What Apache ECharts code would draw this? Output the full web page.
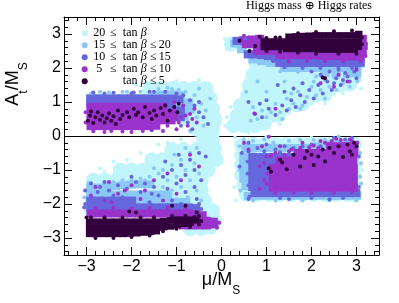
<!DOCTYPE html>
<html><head><meta charset="utf-8">
<script src="https://cdn.jsdelivr.net/npm/echarts@6/dist/echarts.min.js"></script>
<style>html,body{margin:0;padding:0;background:#fff}#c{width:399px;height:303px}</style>
</head><body><div id="c"></div>
<script>
const names = ['20 \u2264 tan \u03b2', '15 \u2264 tan \u03b2 \u2264 20', '10 \u2264 tan \u03b2 \u2264 15', '5 \u2264 tan \u03b2 \u2264 10', 'tan \u03b2 \u2264 5'];
const legendLo = ['20', '15', '10', '5', ''];
const legendHi = ['', '20', '15', '10', '5'];
const colors = ['#c0f5fc', '#8cc8f5', '#6666dd', '#9933cc', '#32003c'];
const majorTicks = [-3, -2, -1, 0, 1, 2, 3];
const minorTicks = [-3.4,-3.2,-2.8,-2.6,-2.4,-2.2,-1.8,-1.6,-1.4,-1.2,-0.8,-0.6,-0.4,-0.2,0.2,0.4,0.6,0.8,1.2,1.4,1.6,1.8,2.2,2.4,2.6,2.8,3.2,3.4];

// tan beta >= 20 (cyan): dense cores and scattered points
const c20Core = [
[0.22,2.7],[0.45,2.7],[0.7,2.7],[0.95,2.7],
[0.87,2.4],[1.1,2.4],[1.35,2.4],[1.6,2.4],[1.85,2.4],[2.1,2.4],[2.35,2.4],[2.6,2.4],[2.85,2.4],[3.05,2.4],
[0.77,2.1],[1.0,2.1],[1.25,2.1],[1.5,2.1],[1.75,2.1],[2.0,2.1],[2.25,2.1],[2.5,2.1],[2.75,2.1],[2.95,2.1],
[0.7,1.8],[0.95,1.8],[1.2,1.8],[1.45,1.8],[1.7,1.8],[1.95,1.8],[2.2,1.8],[2.45,1.8],[2.7,1.8],[2.95,1.8],
[0.62,1.5],[0.87,1.5],[1.12,1.5],[1.37,1.5],[1.62,1.5],[1.87,1.5],[2.12,1.5],[2.37,1.5],[2.62,1.5],[2.85,1.52],
[0.58,1.2],[0.83,1.2],[1.08,1.2],[1.33,1.2],[1.58,1.2],[1.83,1.2],[2.08,1.2],[2.3,1.22],
[0.42,0.9],[0.67,0.9],[0.92,0.9],[1.17,0.9],[1.42,0.9],[1.67,0.92],[1.8,0.95],
[0.35,0.6],[0.6,0.6],[0.85,0.6],[1.1,0.6],[1.28,0.62],
[0.27,0.3],[0.5,0.3],[0.75,0.3],[0.95,0.38],
[-1.6,1.4],[-1.35,1.4],[-1.1,1.4],[-0.85,1.4],[-0.6,1.4],[-0.35,1.4],
[-0.95,1.1],[-0.7,1.1],[-0.45,1.1],[-0.25,1.1],
[-0.9,0.8],[-0.65,0.8],[-0.4,0.8],[-0.2,0.8],
[-0.75,0.5],[-0.5,0.5],[-0.28,0.5],[-0.15,0.5],
[-0.55,0.2],[-0.35,0.2],[-0.2,0.2],
[-0.4,-0.1],[-0.2,-0.1],
[-1.1,-0.4],[-0.85,-0.4],[-0.55,-0.4],[-0.3,-0.4],[-0.15,-0.4],
[-1.55,-0.7],[-1.3,-0.7],[-1.05,-0.7],[-0.8,-0.7],[-0.55,-0.7],[-0.3,-0.7],[-0.12,-0.7],
[-2.25,-1.0],[-2.0,-1.0],[-1.75,-1.0],[-1.5,-1.0],[-1.25,-1.0],[-1.0,-1.0],[-0.75,-1.0],[-0.5,-1.0],[-0.3,-1.0],
[-2.85,-1.3],[-2.6,-1.3],[-2.35,-1.3],[-2.1,-1.3],[-1.85,-1.3],[-1.6,-1.3],[-1.35,-1.3],[-1.1,-1.3],[-0.85,-1.3],[-0.6,-1.3],[-0.45,-1.3],
[-2.88,-1.6],[-1.6,-1.6],[-1.35,-1.6],[-1.1,-1.6],[-0.85,-1.6],[-0.6,-1.6],[-0.45,-1.6],
[-2.88,-1.9],[-1.35,-1.9],[-1.1,-1.9],[-0.85,-1.9],[-0.6,-1.9],[-0.38,-1.9],
[-2.88,-2.2],[-0.85,-2.2],[-0.6,-2.2],[-0.4,-2.2],[-0.2,-2.2],
[-0.6,-2.5],[-0.35,-2.5],[-0.15,-2.5],
[-0.7,-2.72],[-0.45,-2.72],[-0.25,-2.68],
[0.45,-0.28],[0.7,-0.25],[0.95,-0.25],[1.2,-0.25],[1.45,-0.25],[1.7,-0.25],[1.95,-0.25],[2.2,-0.25],[2.45,-0.25],[2.7,-0.25],[2.95,-0.25],
[0.45,-0.55],[0.7,-0.55],[0.95,-0.55],[1.2,-0.55],[1.45,-0.55],[2.95,-0.55],
[0.45,-0.85],[0.7,-0.85],[2.95,-0.85],
[0.45,-1.15],[0.7,-1.15],[2.95,-1.15],
[0.5,-1.45],[0.75,-1.45],[2.95,-1.45],
[0.55,-1.72],[0.8,-1.72],[1.05,-1.72],[1.3,-1.72],[1.55,-1.72],[1.8,-1.72],[2.05,-1.72],[2.3,-1.72],[2.55,-1.72],[2.8,-1.72],[2.95,-1.72]
];
const c20Pts = [
[0.6,0.1],[1.0,0.4],[1.5,0.68],[2.0,0.95],[2.5,1.25],[2.9,1.42],[3.08,1.65],[0.08,0.3],[0.12,0.55],[0.2,0.85],
[-0.05,0.35],[-0.5,1.65],[-1.0,1.62],[-1.8,1.3],[-1.9,1.5],[-2.4,-0.75],[-1.8,-0.5],[-1.4,-0.25],[-0.9,-0.1],
[-2.9,-1.15],[-2.6,-1.05],[-0.05,-0.3],[-0.02,-0.6],[-0.05,-2.55],[0.3,-0.05],[1.0,-0.02],[2.0,-0.05],
[3.13,-1.0],[0.28,-1.5],[0.32,-1.9],[0.08,2.85],[0.12,2.55],[3.12,2.0],[3.1,1.4],[-0.1,0.05],[-0.25,0.05],
[-2.1,-0.7],[-1.2,-0.2],[-2.7,-0.95],[1.3,0.35],[2.3,0.95],[2.7,1.25]
];
// 15 <= tan beta <= 20 (light blue)
const c15Core = [
[0.3,2.72],[0.5,2.72],[0.45,2.55],
[1.4,2.0],[1.6,2.0],[1.8,2.0],[2.0,2.0],[2.2,2.0],[2.4,2.0],[2.6,2.0],[2.8,2.0],[3.0,2.0],
[2.3,1.84],[2.55,1.84],[2.8,1.84],[3.0,1.84],[0.7,2.25],[0.9,2.2],[1.1,2.15],
[-2.9,1.12],[-2.72,1.12],[-2.54,1.12],[-2.36,1.12],[-2.18,1.12],[-2.0,1.12],[-1.82,1.12],[-1.64,1.12],[-1.46,1.2],[-1.28,1.22],[-1.1,1.22],[-0.92,1.2],
[-1.5,0.98],[-1.3,0.98],[-1.1,0.98],[-0.9,0.98],[-0.74,0.98],
[-1.4,0.78],[-1.2,0.78],[-1.0,0.78],[-0.82,0.78],[-0.7,0.78],
[-1.2,0.58],[-1.0,0.58],[-0.84,0.58],
[-2.9,-1.52],[-2.72,-1.52],[-2.54,-1.5],[-2.36,-1.47],[-2.18,-1.45],[-2.0,-1.43],[-1.8,-1.42],[-1.6,-1.42],
[-2.9,-1.72],[-2.72,-1.72],[-2.54,-1.72],[-2.36,-1.72],[-2.18,-1.72],[-2.0,-1.72],[-1.8,-1.72],[-1.6,-1.72],[-1.4,-1.72],[-1.2,-1.72],
[-2.9,-1.94],[-2.72,-1.94],[-2.54,-1.94],[-2.36,-1.94],[-2.18,-1.94],[-2.0,-1.94],[-1.8,-1.94],[-1.6,-1.94],[-1.4,-1.94],[-1.2,-1.94],[-1.0,-1.94],[-0.8,-1.94],
[0.55,-0.35],[0.75,-0.35],[0.95,-0.35],[1.15,-0.35],[1.35,-0.35],[1.55,-0.35],[1.75,-0.35],[1.95,-0.35],[2.15,-0.3],[2.35,-0.25],[2.55,-0.22],[2.75,-0.22],[2.95,-0.25],
[0.5,-0.6],[0.65,-0.6],[0.5,-0.82],[0.65,-0.82],[0.5,-1.04],[0.65,-1.04],[0.5,-1.26],[0.65,-1.26],[0.55,-1.48],[0.7,-1.48],
[0.6,-1.76],[0.8,-1.76],[1.0,-1.76],[1.2,-1.76],[1.4,-1.76],[1.6,-1.76],[1.8,-1.76],[2.0,-1.76],[2.2,-1.76],[2.4,-1.76],[2.6,-1.76],[2.8,-1.76],[3.0,-1.76]
];
const c15Pts = [
[0.65,0.45],[0.8,0.5],[1.0,0.55],[1.1,0.7],[1.3,0.7],[1.5,0.8],[1.6,0.95],[1.8,0.9],[1.9,1.15],[2.1,1.2],[2.2,1.35],[2.4,1.45],
[2.5,1.55],[2.7,1.55],[2.8,1.75],[3.0,1.85],[1.2,0.95],[1.45,1.1],[1.7,1.3],[2.0,1.45],[2.3,1.65],[2.6,1.8],[0.9,0.75],[0.7,0.85],
[2.85,1.45],[3.02,1.6],[1.35,0.5],[1.75,0.8],[2.3,1.1],[0.55,1.3],[1.0,1.3],[1.4,1.6],[0.8,1.6],[1.55,1.25],[2.05,1.6],[2.55,1.35],
[1.3,1.9],[1.7,1.88],[2.1,1.75],[2.5,1.72],
[-0.6,1.2],[-0.45,0.95],[-0.35,0.75],[-0.55,0.55],[-0.4,0.3],[-0.7,0.15],[-1.8,1.3],[-2.1,1.3],[-2.5,1.28],[-0.25,1.1],[-0.5,1.4],[-1.2,1.42],[-0.95,1.36],[-2.9,1.25],
[-2.7,1.3],[-2.2,1.3],[-1.4,1.38],[-1.1,1.38],[-0.8,1.3],
[-1.3,-1.0],[-1.1,-0.85],[-0.9,-0.7],[-0.7,-0.5],[-0.55,-0.35],[-1.2,-1.3],[-1.0,-1.2],[-0.8,-1.0],[-0.6,-0.8],[-0.5,-1.1],[-1.4,-1.1],
[-0.9,-1.5],[-0.7,-1.3],[-0.55,-1.6],[-1.1,-1.6],[-0.45,-1.9],[-0.4,-2.3],[-0.3,-2.4],[-1.6,-1.2],[-1.8,-1.25],[-2.2,-1.3],[-0.75,-1.8],
[-0.6,-2.1],[-1.0,-1.85],[-1.3,-1.5],[-1.5,-0.95],[-1.05,-0.55],[-0.8,-0.35],[-2.6,-1.38],[-2.95,-1.38],[-3.05,-1.8],
[-2.9,-1.38],[-2.4,-1.35],[-2.0,-1.3],[-1.7,-1.3],
[0.5,-0.1],[0.7,-0.15],[0.95,-0.1],[1.15,-0.2],[1.5,-0.15],[1.75,-0.12],[2.05,-0.12],[2.3,-0.1],[2.6,-0.02],[0.4,-0.3],[3.1,-0.8],[3.1,-1.4],[0.4,-1.0],[0.42,-1.6],
[0.7,-1.9],[1.2,-1.9],[1.8,-1.9],[2.4,-1.9],[3.0,-1.9],[3.08,-0.5],[3.08,-1.2]
];
// 10 <= tan beta <= 15 (blue)
const c10Core = [
[1.3,2.15],[1.45,2.15],[1.6,2.15],[1.75,2.15],[1.9,2.15],[2.05,2.15],[2.2,2.15],[2.35,2.15],[2.5,2.15],[2.65,2.15],[2.8,2.15],[2.95,2.15],[3.08,2.15],
[0.6,2.4],[0.75,2.4],[0.9,2.38],[1.05,2.35],[1.2,2.3],[0.35,2.8],[0.5,2.82],
[-2.9,1.1],[-2.72,1.1],[-2.54,1.1],[-2.36,1.1],[-2.18,1.1],[-2.0,1.1],[-1.82,1.1],[-1.64,1.1],[-1.46,1.1],[-1.28,1.1],[-1.1,1.1],[-0.95,1.08],
[-2.9,0.94],[-2.72,0.94],[-2.54,0.94],[-2.36,0.94],[-2.18,0.94],[-2.0,0.94],[-1.82,0.94],[-1.64,0.94],[-1.46,0.94],[-1.28,0.94],[-1.12,0.94],
[-1.1,0.75],[-0.92,0.75],[-1.1,0.55],[-0.92,0.55],
[-2.9,-2.1],[-2.72,-2.1],[-2.54,-2.1],[-2.36,-2.1],[-2.18,-2.1],[-2.0,-2.1],[-1.82,-2.1],[-1.64,-2.1],[-1.46,-2.1],[-1.28,-2.1],[-1.1,-2.1],[-0.92,-2.1],[-0.74,-2.1],[-0.58,-2.12],
[-2.9,-1.9],[-2.72,-1.9],[-2.54,-1.9],[-2.36,-1.9],[-2.18,-1.9],[-2.0,-1.9],
[0.7,-0.62],[0.88,-0.62],[1.06,-0.62],[1.24,-0.62],[1.42,-0.62],[1.6,-0.62],[0.7,-0.84],[0.88,-0.84],[1.06,-0.84],[1.24,-0.84],
[0.7,-1.06],[0.88,-1.06],[1.06,-1.06],[0.7,-1.28],[0.88,-1.28],[1.06,-1.28],
[0.7,-1.5],[0.88,-1.5],[1.06,-1.5],[0.75,-1.68],[0.9,-1.68],[1.06,-1.68],
[1.24,-1.68],[1.42,-1.68],[1.6,-1.68],[1.78,-1.68],[1.96,-1.68],[2.14,-1.68],[2.32,-1.68],[2.5,-1.68],[2.68,-1.68],[2.86,-1.68],[2.98,-1.68]
];
const c10Pts = [
[0.75,0.65],[0.9,0.55],[1.05,0.8],[1.2,0.62],[1.35,0.9],[1.45,0.75],[1.55,1.05],[1.65,0.85],[1.75,1.2],[1.85,1.0],[1.95,1.35],[2.05,1.1],
[2.15,1.5],[2.25,1.25],[2.35,1.6],[2.45,1.35],[2.55,1.7],[2.65,1.5],[2.75,1.85],[2.85,1.6],[2.95,1.9],[3.0,1.7],[1.0,1.05],[1.4,1.3],
[1.8,1.55],[2.2,1.8],[2.6,1.95],[0.6,1.0],[1.25,1.5],[2.0,1.9],[2.9,2.0],[2.4,1.9],[1.6,1.4],[0.85,0.95],[2.7,1.65],[2.5,1.55],[2.8,1.75],
[1.4,2.02],[1.8,2.0],[2.2,2.0],[2.6,2.0],[3.0,2.0],[1.15,2.2],
[-0.85,1.2],[-0.7,1.05],[-0.6,0.9],[-0.5,0.7],[-0.4,0.55],[-0.75,0.4],[-0.5,1.0],[-0.3,0.35],[-0.9,0.3],[-0.65,0.2],[-2.6,1.25],[-2.0,1.26],[-1.5,1.3],
[-2.85,1.28],[-2.4,1.27],[-1.95,1.28],[-1.6,1.3],[-1.25,1.3],[-1.0,1.25],
[-2.9,-1.4],[-2.7,-1.5],[-2.5,-1.6],[-2.3,-1.45],[-2.1,-1.55],[-1.9,-1.35],[-1.7,-1.4],[-1.5,-1.5],[-1.3,-1.2],[-1.1,-1.0],[-0.9,-0.85],
[-0.7,-0.7],[-0.5,-0.5],[-1.4,-1.75],[-1.2,-1.55],[-1.0,-1.4],[-0.8,-1.15],[-0.6,-1.0],[-1.6,-1.95],[-1.1,-1.9],[-0.8,-1.65],[-0.45,-1.3],
[-0.6,-1.5],[-2.2,-1.8],[-1.8,-1.65],[-0.9,-2.0],[-0.55,-1.85],[-1.25,-0.75],[-0.95,-0.55],[-0.35,-0.6],[-2.0,-1.2],[-2.6,-1.35],
[-2.75,-1.65],[-2.4,-1.75],[-1.55,-1.7],[-3.03,-1.6],[-3.03,-2.0],[-3.05,-2.1],[-0.5,-2.0],[-0.45,-2.15],
[0.6,-0.2],[0.8,-0.35],[1.0,-0.25],[1.2,-0.4],[1.4,-0.3],[1.6,-0.35],[1.8,-0.3],[2.0,-0.25],[2.2,-0.3],[2.5,-0.05],[2.75,-0.1],
[2.9,-0.05],[3.05,-0.6],[0.45,-0.5],[0.4,-0.9],[0.6,-1.85],[1.5,-1.85],[2.4,-1.86],[3.05,-1.5],
[0.6,-0.45],[0.58,-0.75],[0.58,-1.1],[0.6,-1.45],[0.62,-1.78],[1.3,-0.48],[0.95,-0.45],[1.3,-1.82],[2.0,-1.82],[2.7,-1.82]
];
// 5 <= tan beta <= 10 (purple)
const c5Core = [
[1.3,2.38],[1.48,2.38],[1.66,2.38],[1.84,2.38],[2.02,2.38],[2.2,2.36],[2.38,2.35],[2.56,2.35],[2.74,2.34],[2.92,2.34],[3.08,2.34],
[0.8,2.5],[0.98,2.5],[1.16,2.5],[1.34,2.5],[0.55,2.7],[0.73,2.7],[0.91,2.7],[0.7,2.84],[0.85,2.86],
[3.13,2.86],[3.15,2.65],[3.13,2.47],
[-2.9,0.86],[-2.72,0.86],[-2.54,0.86],[-2.36,0.86],[-2.18,0.86],[-2.0,0.86],[-1.82,0.86],[-1.64,0.86],[-1.46,0.86],[-1.3,0.86],
[-2.9,0.66],[-2.72,0.66],[-2.54,0.66],[-2.36,0.66],[-2.18,0.66],[-2.0,0.66],[-1.82,0.66],[-1.64,0.66],[-1.46,0.66],[-1.28,0.66],[-1.12,0.66],
[-2.9,0.46],[-2.72,0.46],[-2.54,0.46],[-2.36,0.46],[-2.18,0.46],[-2.0,0.46],[-1.82,0.46],[-1.64,0.46],[-1.46,0.46],[-1.28,0.46],[-1.12,0.46],
[-2.9,0.29],[-2.72,0.29],[-2.54,0.29],[-2.36,0.29],[-2.18,0.29],[-2.0,0.29],[-1.82,0.29],[-1.64,0.29],[-1.46,0.3],
[-2.9,-2.28],[-2.72,-2.28],[-2.54,-2.28],[-2.36,-2.28],[-2.18,-2.28],[-2.0,-2.28],[-1.82,-2.28],[-1.64,-2.28],[-1.46,-2.28],[-1.28,-2.28],[-1.1,-2.28],[-0.92,-2.28],[-0.74,-2.28],[-0.58,-2.3],[-0.43,-2.33],
[-0.5,-2.5],[-0.33,-2.5],[-0.18,-2.52],[-0.85,-2.63],[-0.67,-2.63],[-0.5,-2.63],[-0.33,-2.63],[-0.17,-2.6],
[2.42,-0.3],[2.6,-0.3],[2.78,-0.3],[2.94,-0.32],
[1.7,-0.5],[1.88,-0.5],[2.06,-0.5],[2.24,-0.5],[2.42,-0.5],[2.6,-0.5],[2.78,-0.5],[2.94,-0.5],
[1.3,-0.72],[1.48,-0.72],[1.66,-0.72],[1.84,-0.72],[2.02,-0.72],[2.2,-0.72],[2.38,-0.72],[2.56,-0.72],[2.74,-0.72],[2.92,-0.72],
[1.15,-0.94],[1.33,-0.94],[1.51,-0.94],[1.69,-0.94],[1.87,-0.94],[2.05,-0.94],[2.23,-0.94],[2.41,-0.94],[2.59,-0.94],[2.77,-0.94],[2.93,-0.94],
[1.15,-1.16],[1.33,-1.16],[1.51,-1.16],[1.69,-1.16],[1.87,-1.16],[2.05,-1.16],[2.23,-1.16],[2.41,-1.16],[2.59,-1.16],[2.77,-1.16],[2.93,-1.16],
[1.15,-1.36],[1.33,-1.36],[1.51,-1.36],[1.69,-1.36],[1.87,-1.36],[2.05,-1.36],[2.23,-1.36],[2.41,-1.36],[2.59,-1.36],[2.77,-1.36],[2.93,-1.36],
[1.15,-1.52],[1.33,-1.52],[1.51,-1.52],[1.69,-1.52],[1.87,-1.52],[2.05,-1.52],[2.23,-1.52],[2.41,-1.52],[2.59,-1.52],[2.77,-1.52],[2.93,-1.52]
];
const c5Pts = [
[0.73,0.66],[1.2,0.8],[2.6,1.8],[2.8,1.6],[2.5,1.45],[3.0,1.95],[2.2,1.55],[0.5,2.95],
[1.5,2.2],[1.9,2.22],[2.3,2.2],[2.7,2.2],[3.1,2.2],[3.2,2.7],[3.2,2.35],[0.6,2.9],[0.45,2.85],
[-0.85,0.9],[-0.7,0.65],[-0.6,0.8],[-0.55,0.4],[-0.9,0.55],[-0.75,0.3],[-1.0,0.2],[-1.05,1.0],[-2.6,0.12],[-2.2,0.13],[-1.3,0.15],[-1.0,0.5],
[-2.85,0.14],[-2.45,0.15],[-2.0,0.12],[-1.75,0.15],[-1.55,0.17],[-1.2,0.3],[-1.0,0.6],[-0.95,0.4],[-1.05,0.8],[-0.8,0.6],[-0.65,0.5],[-3.02,0.4],[-3.02,0.7],
[-2.8,-1.5],[-2.5,-1.35],[-2.3,-1.7],[-2.0,-1.45],[-1.7,-1.6],[-1.5,-1.3],[-1.3,-1.9],[-1.2,-1.1],[-0.9,-1.3],[-0.5,-0.9],
[-0.7,-0.55],[-1.0,-1.7],[-2.6,-1.9],[-2.9,-1.75],[-1.8,-1.85],[-2.15,-1.6],[-2.45,-1.95],
[-2.8,-2.12],[-2.4,-2.1],[-2.0,-2.13],[-1.6,-2.12],[-1.2,-2.1],[-0.8,-2.15],[-0.05,-2.55],[-0.1,-2.7],
[0.9,-0.3],[1.0,-0.6],[0.85,-0.9],[0.5,-0.2],[1.3,-0.3],[1.8,-0.2],[2.2,-0.15],[0.6,-0.4],[1.05,-0.02],[2.85,-0.1],[2.55,-0.08],
[1.5,-0.45],[2.05,-0.28],[1.1,-0.55],[0.95,-1.3],[0.85,-1.55],
[1.1,-0.6],[1.2,-0.5],[1.4,-0.55],[1.55,-0.4],[1.75,-0.35],[1.95,-0.33],[2.15,-0.35],[2.3,-0.2],[2.45,-0.15],[2.65,-0.12],[2.9,-0.15],[3.02,-0.2],
[1.2,-1.68],[1.6,-1.66],[2.0,-1.67],[2.5,-1.66],[2.9,-1.65],[1.02,-1.1],[1.0,-1.4],[0.95,-0.8]
];
// tan beta <= 5 (dark purple)
const c0Core = [
[1.5,2.92],[1.65,2.93],[1.8,2.94],[1.95,2.95],[2.1,2.96],[2.25,2.96],[2.4,2.96],[2.55,2.96],[2.7,2.96],[2.85,2.96],[3.0,2.96],[3.05,3.0],
[0.95,2.78],[1.1,2.78],[1.25,2.78],[1.4,2.78],[1.55,2.78],[1.7,2.78],[1.85,2.78],[2.0,2.78],[2.15,2.78],[2.3,2.78],[2.45,2.78],[2.6,2.78],[2.75,2.78],[2.9,2.78],[3.04,2.78],
[0.95,2.62],[1.1,2.62],[1.25,2.62],[1.4,2.62],[1.55,2.62],[1.7,2.62],[1.85,2.62],[2.0,2.62],[2.15,2.62],[2.3,2.62],[2.45,2.62],[2.6,2.62],[2.75,2.62],[2.9,2.62],[3.04,2.62],
[1.45,2.56],[1.6,2.56],[1.75,2.56],[1.9,2.56],[2.05,2.56],
[2.2,2.54],[2.35,2.54],[2.5,2.54],[2.65,2.54],[2.8,2.54],[2.95,2.54],
[-2.93,-2.52],[-2.78,-2.52],[-2.63,-2.52],[-2.48,-2.52],[-2.33,-2.52],[-2.18,-2.52],[-2.03,-2.52],[-1.88,-2.52],[-1.73,-2.52],[-1.58,-2.52],[-1.43,-2.52],[-1.28,-2.5],[-1.13,-2.48],[-0.98,-2.46],[-0.83,-2.46],[-0.68,-2.46],[-0.57,-2.48],
[-2.93,-2.7],[-2.78,-2.7],[-2.63,-2.7],[-2.48,-2.7],[-2.33,-2.7],[-2.18,-2.7],[-2.03,-2.7],[-1.88,-2.7],[-1.73,-2.7],[-1.58,-2.7],[-1.43,-2.7],[-1.28,-2.68],[-1.13,-2.66],[-0.98,-2.62],[-0.83,-2.58],[-0.7,-2.55],
[-2.93,-2.88],[-2.78,-2.88],[-2.63,-2.88],[-2.48,-2.88],[-2.33,-2.88],[-2.18,-2.88],[-2.03,-2.87],[-1.88,-2.86],[-1.73,-2.84],[-1.58,-2.82],[-1.45,-2.8]
];
const c0Pts = [
[0.4,2.8],[0.62,2.5],[0.75,2.65],[2.3,1.7],[2.25,1.72],[0.85,2.92],[1.2,2.9],
[1.0,2.88],[1.3,2.9],[1.7,3.02],[2.1,3.06],[2.5,3.08],[2.9,3.1],[1.0,2.5],[1.3,2.48],[1.7,2.45],[2.1,2.42],[2.6,2.42],[3.0,2.42],[3.12,2.7],[3.12,2.9],
[-2.97,0.45],[-2.92,0.6],[-2.85,0.38],[-2.8,0.55],[-2.75,0.7],[-2.7,0.48],[-2.65,0.6],[-2.6,0.4],[-2.55,0.52],[-2.5,0.66],[-2.45,0.45],
[-2.4,0.58],[-2.3,0.75],[-2.25,0.5],[-2.2,0.62],[-2.1,0.7],[-2.05,0.55],[-1.95,0.8],[-1.9,0.62],[-1.85,0.7],[-1.75,0.55],[-1.7,0.85],
[-1.6,0.68],[-1.55,0.5],[-1.5,0.75],[-1.45,0.6],[-1.35,0.82],[-1.3,0.65],[-1.25,0.9],[-1.15,0.75],[-1.05,0.85],[-0.95,0.95],[-2.9,0.72],
[-2.35,0.35],[-1.2,0.45],[-0.98,0.7],
[1.05,-0.95],[1.1,-1.05],[1.3,-0.7],[1.35,-0.78],[1.45,-0.98],[1.6,-0.55],[1.75,-0.9],[1.85,-0.65],[1.9,-0.45],[2.0,-0.55],[2.05,-0.85],
[2.15,-0.6],[2.25,-0.4],[2.3,-0.75],[2.4,-0.35],[2.5,-0.5],[2.6,-0.3],[2.7,-0.62],[2.8,-0.25],[2.85,-0.45],[2.95,-0.2],[3.0,-0.3],[2.9,-0.55],
[-1.1,-2.05],[-0.8,-2.05],[-1.9,-2.25],[-2.05,-2.22],[-0.55,-2.25],[-0.5,-2.35],[-3.0,-2.4],
[-2.9,-2.4],[-2.6,-2.4],[-2.2,-2.4],[-1.8,-2.4],[-1.5,-2.4],[-1.1,-2.35],[-0.8,-2.35],[-0.6,-2.38],
[-2.8,-3.0],[-2.4,-3.0],[-2.0,-2.97],[-1.6,-2.93],[-1.3,-2.8],[-1.0,-2.73],[-0.7,-2.68],[-0.45,-2.5],[-0.5,-2.6]
];

const FONT = 'Liberation Sans, Arial, sans-serif';
const SERIF = 'Liberation Serif, DejaVu Serif, serif';
const fmtNum = v => v < 0 ? '\u2212' + (-v) : String(v);

function axis(pos, ticks, len, showLine, showLabel) {
  return {
    type: 'value', min: -3.5, max: 3.5, position: pos,
    axisLine: { show: showLine, onZero: false, lineStyle: { color: '#000', width: 1 } },
    axisTick: { show: true, inside: true, length: len, customValues: ticks, lineStyle: { color: '#000', width: 1 } },
    axisLabel: showLabel ? { show: true, customValues: ticks, formatter: fmtNum, fontFamily: FONT, fontSize: 16, color: '#000', margin: pos === 'left' ? 3 : 4 } : { show: false },
    splitLine: { show: false }
  };
}

function sc(name, data, color, symbol, size) {
  return { type: 'scatter', name: name, data: data, symbol: symbol, symbolSize: size,
    itemStyle: { color: color, opacity: 1 }, silent: true, xAxisIndex: 0, yAxisIndex: 0, z: 2 };
}

const cores = [c20Core, c15Core, c10Core, c5Core, c0Core];
const pts = [c20Pts, c15Pts, c10Pts, c5Pts, c0Pts];
const coreSymbol = ['circle', 'rect', 'rect', 'rect', 'rect'];
const coreSize = [15, [9.5, 8], [9.5, 8], [9, 8], [7.5, 6.5]];
const series = [{
  type: 'scatter', data: [], silent: true,
  markLine: { silent: true, z: 1, symbol: ['none', 'none'], label: { show: false }, animation: false,
    lineStyle: { color: '#000', width: 1.2, type: 'solid' }, data: [{ yAxis: 0 }] }
}];
for (let i = 0; i < 5; i++) {
  series.push(sc(names[i], cores[i], colors[i], coreSymbol[i], coreSize[i]));
  series.push(sc(names[i], pts[i], colors[i], 'circle', 4));
}

const LH = 11.7;
function rs(extra) { return Object.assign({ fontFamily: SERIF, fontSize: 12, lineHeight: LH, color: '#000' }, extra); }
const legendRich = {
  n: rs({ width: 13, align: 'right' }),
  l: rs({ width: 15, align: 'center' }),
  t: rs({ width: 19, align: 'left' }),
  b: rs({ width: 8, align: 'left', fontStyle: 'italic' }),
  l2: rs({ width: 11, align: 'center' }),
  m: rs({ align: 'left' })
};
function legendFmt(name) {
  const i = names.indexOf(name);
  const lo = legendLo[i], hi = legendHi[i];
  let s = lo ? '{n|' + lo + '}{l|\u2264}' : '{n| }{l| }';
  s += '{t|tan}{b|\u03b2}';
  if (hi) s += '{l2|\u2264}{m|' + hi + '}';
  return s;
}

const chart = echarts.init(document.getElementById('c'), null, { renderer: 'canvas' });
chart.setOption({
  animation: false,
  backgroundColor: '#fff',
  title: { text: 'Higgs mass \u2295 Higgs rates', right: 27, top: 0, padding: 0,
    textStyle: { fontFamily: SERIF, fontSize: 12, fontWeight: 'normal', color: '#000' } },
  grid: { left: 64, right: 20, top: 17, bottom: 48, containLabel: false },
  xAxis: [
    axis('bottom', majorTicks, 8, true, true),
    axis('bottom', minorTicks, 4, false, false),
    axis('top', majorTicks, 8, true, false),
    axis('top', minorTicks, 4, false, false)
  ],
  yAxis: [
    axis('left', majorTicks, 8, true, true),
    axis('left', minorTicks, 4, false, false),
    axis('right', majorTicks, 8, true, false),
    axis('right', minorTicks, 4, false, false)
  ],
  legend: {
    data: names, orient: 'vertical', left: 81.7, top: 27.2, padding: 0, itemGap: 0,
    icon: 'circle', itemWidth: 6, itemHeight: 6, itemTextGap: 3, selectedMode: false,
    formatter: legendFmt,
    textStyle: { fontFamily: SERIF, fontSize: 12, lineHeight: LH, color: '#000', rich: legendRich }
  },
  graphic: [
    { type: 'text', x: 221, y: 284, silent: true,
      style: { text: '{m|\u03bc/M}{s|S}', align: 'center', verticalAlign: 'middle', fill: '#000',
        rich: { m: { fontFamily: FONT, fontSize: 18, padding: [0, 0, 7, 0], verticalAlign: 'bottom', fill: '#000' },
                s: { fontFamily: FONT, fontSize: 12, verticalAlign: 'bottom', fill: '#000' } } } },
    { type: 'text', x: 17, y: 84, rotation: Math.PI / 2, silent: true,
      style: { text: '{m|A}{s|t}{m|/M}{s|S}', align: 'center', verticalAlign: 'middle', fill: '#000',
        rich: { m: { fontFamily: FONT, fontSize: 18, padding: [0, 0, 7, 0], verticalAlign: 'bottom', fill: '#000' },
                s: { fontFamily: FONT, fontSize: 12, verticalAlign: 'bottom', fill: '#000' } } } }
  ],
  series: series
});
</script></body></html>
